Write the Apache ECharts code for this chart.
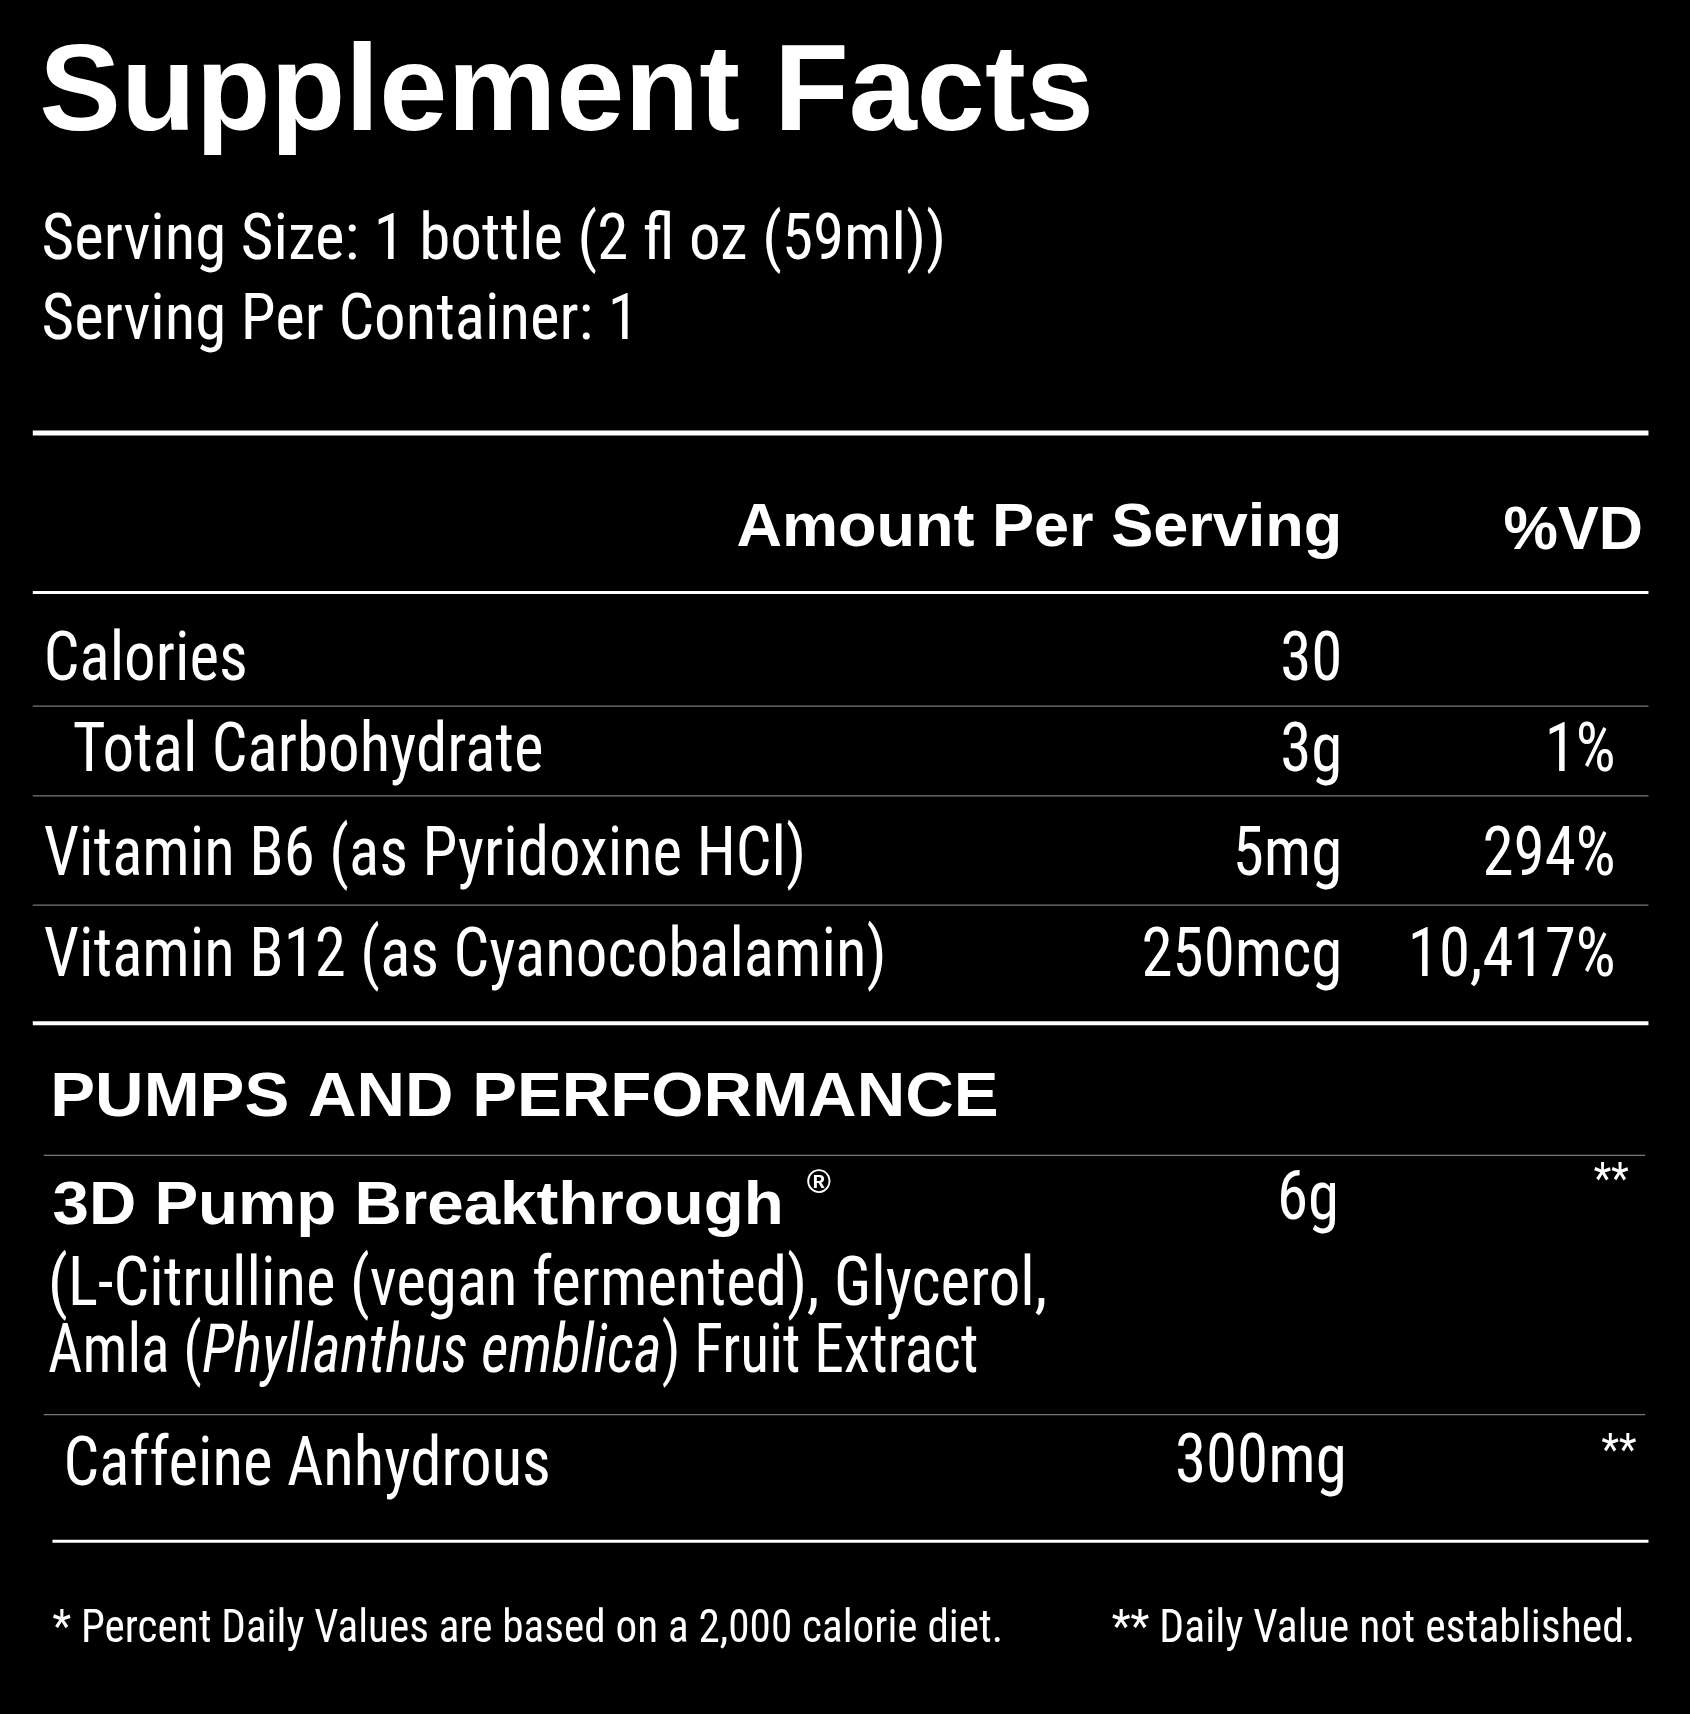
<!DOCTYPE html>
<html>
<head>
<meta charset="utf-8">
<script src="https://cdn.jsdelivr.net/npm/echarts@6/dist/echarts.min.js"></script>
<style>html,body{margin:0;background:#000}#main{width:1690px;height:1714px}</style>
</head>
<body>
<div id="main"></div>
<script>
// facts table content
const nutrients = ['Calories', '  Total Carbohydrate', 'Vitamin B6 (as Pyridoxine HCl)', 'Vitamin B12 (as Cyanocobalamin)'];
const amounts = ['30', '3g', '5mg', '250mcg'];
const dailyValues = ['', '1%', '294%', '10,417%'];
const rowY = [607, 690, 785, 877];
const rowLines = [646, 728, 828];
const servingLines = ['Serving Size: 1 bottle (2 fl oz (59ml))', 'Serving Per Container: 1'];
const blendName = '3D Pump Breakthrough';
const blendAmount = '6g';
const caffeine = ['Caffeine Anhydrous', '300mg', '**'];
const footnotes = ['* Percent Daily Values are based on a 2,000 calorie diet.', '** Daily Value not established.'];

const S = 1690 / 1546;
const p = v => v * S;
const NARROW = '"Liberation Sans Narrow", "Roboto Condensed", sans-serif';
const BOLD = '"Liberation Sans", Arial, sans-serif';

const g = [];
function txt(x, y, text, size, opts) {
    opts = opts || {};
    g.push({
        type: 'text', x: p(x), y: p(y),
        scaleX: opts.sx || (opts.bold ? 1 : 0.93),
        style: Object.assign({
            text: text, fill: '#fff', fontSize: p(size),
            fontFamily: opts.bold ? BOLD : NARROW,
            fontWeight: opts.bold ? 'bold' : 'normal',
            textAlign: opts.align || 'left', textVerticalAlign: 'middle'
        }, opts.style || {})
    });
}
function line(y, x1, x2, w, color) {
    g.push({ type: 'line', shape: { x1: p(x1), y1: p(y), x2: p(x2), y2: p(y) },
        style: { stroke: color || '#fff', lineWidth: w } });
}

txt(36, 88, 'Supplement Facts', 112, { bold: true });
servingLines.forEach((s, i) => txt(38, 222 + i * 73, s, 60, { sx: 0.96 }));
line(396, 30, 1508, 5);
txt(1228, 484, 'Amount Per Serving', 56, { bold: true, align: 'right', sx: 1.03 });
txt(1503, 487, '%VD', 56, { bold: true, align: 'right' });
line(542, 30, 1508, 3);

nutrients.forEach((n, i) => {
    txt(40, rowY[i], n, 62);
    txt(1228, rowY[i], amounts[i], 62, { align: 'right' });
    txt(1478, rowY[i], dailyValues[i], 62, { align: 'right' });
});
rowLines.forEach(y => line(y, 30, 1508, 1.2, '#777'));
line(936, 30, 1508, 4);

txt(46, 1005, 'PUMPS AND PERFORMANCE', 58, { bold: true, sx: 1.06 });
line(1057, 40, 1505, 1.2, '#777');
txt(48, 1104, blendName, 56, { bold: true, sx: 1.07 });
txt(738, 1083, '®', 30, { bold: true });
txt(1225, 1100, blendAmount, 62, { align: 'right' });
txt(1490, 1082, '**', 40, { align: 'right' });
txt(44, 1178, '(L-Citrulline (vegan fermented), Glycerol,', 62);
g.push({ type: 'text', x: p(44), y: p(1240), scaleX: 0.88, style: {
    text: '{n|Amla (}{i|Phyllanthus emblica}{n|) Fruit Extract}',
    fill: '#fff', textVerticalAlign: 'middle',
    rich: {
        n: { fontSize: p(62), fontFamily: NARROW, fill: '#fff' },
        i: { fontSize: p(62), fontFamily: NARROW, fontStyle: 'italic', fill: '#fff' }
    }
} });
line(1294, 40, 1505, 1.2, '#777');
txt(58, 1343, caffeine[0], 62);
txt(1232, 1340, caffeine[1], 62, { align: 'right' });
txt(1497, 1330, caffeine[2], 40, { align: 'right' });
line(1410, 48, 1508, 3);

txt(48, 1492, footnotes[0], 42, { sx: 0.94 });
txt(1496, 1492, footnotes[1], 42, { align: 'right', sx: 0.95 });

const chart = echarts.init(document.getElementById('main'));
chart.setOption({ backgroundColor: '#000', animation: false, graphic: g });
</script>
</body>
</html>
